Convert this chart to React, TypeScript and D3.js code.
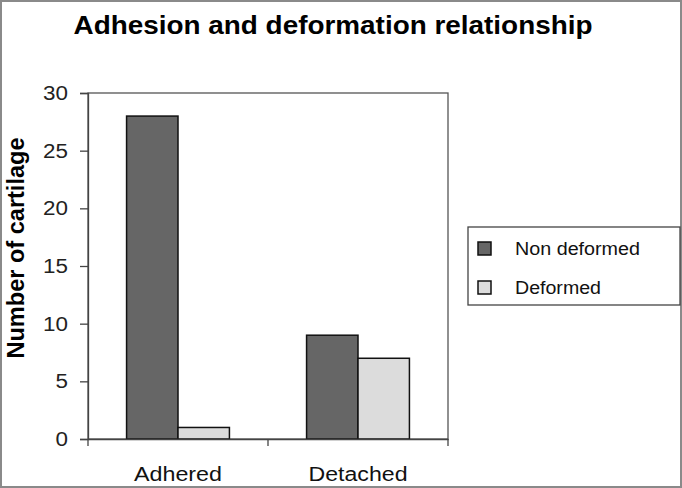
import * as React from 'react';
import * as d3 from 'd3';

const categories = ['Adhered', 'Detached'];
const seriesNames = ['Non deformed', 'Deformed'];
const nonDeformed = [28, 9];
const deformed = [1, 7];
const yTicks = [0, 5, 10, 15, 20, 25, 30];

const colors = ['#666666', '#dcdcdc'];
const font = 'Liberation Sans, Arial, sans-serif';

// the source picture is a bit wider than tall, so the text is stretched sideways
function stretch(sel: any, k: number) {
  sel.each(function (this: SVGTextElement) {
    const len = this.getComputedTextLength();
    d3.select(this).attr('textLength', len * k).attr('lengthAdjust', 'spacingAndGlyphs');
  });
}

export default function App() {
  const ref = React.useRef<SVGSVGElement>(null);

  React.useEffect(() => {
    const svg = d3.select(ref.current);
    svg.selectAll('*').remove();
    const W = 682, H = 488;
    const margin = { left: 88, right: 234, top: 93, bottom: 49 };
    const width = W - margin.left - margin.right;
    const height = H - margin.top - margin.bottom;

    // outer frame
    svg.append('rect')
      .attr('x', 1).attr('y', 1).attr('width', W - 2).attr('height', H - 2)
      .attr('fill', '#fff').attr('stroke', '#8a8a8a').attr('stroke-width', 2);

    svg.append('text')
      .attr('x', 333).attr('y', 34)
      .attr('text-anchor', 'middle')
      .attr('font-family', font).attr('font-weight', 'bold').attr('font-size', 25)
      .attr('textLength', 519).attr('lengthAdjust', 'spacingAndGlyphs')
      .text('Adhesion and deformation relationship');

    const g = svg.append('g').attr('transform', `translate(${margin.left},${margin.top})`);

    const x = d3.scaleBand().domain(categories).range([0, width]);
    const y = d3.scaleLinear().domain([0, 30]).range([height, 0]);
    const barW = x.bandwidth() / 3.5;

    // plot frame
    g.append('rect')
      .attr('width', width).attr('height', height)
      .attr('fill', 'none').attr('stroke', '#555').attr('stroke-width', 1.3);

    const series = [nonDeformed, deformed];
    series.forEach((vals, si) => {
      g.selectAll(`.bar${si}`)
        .data(vals)
        .enter()
        .append('rect')
        .attr('x', (d, i) => x(categories[i])! + barW * 0.75 + si * barW)
        .attr('y', d => y(d))
        .attr('width', barW)
        .attr('height', d => height - y(d))
        .attr('fill', colors[si])
        .attr('stroke', '#111')
        .attr('stroke-width', 1.5);
    });

    const yAxis = d3.axisLeft(y).tickValues(yTicks).tickSize(8).tickPadding(12);
    const yg = g.append('g').call(yAxis);
    yg.select('.domain').attr('stroke', '#444').attr('stroke-width', 1.3);
    yg.selectAll('.tick line').attr('stroke', '#444').attr('stroke-width', 1.3);
    yg.selectAll('.tick text')
      .attr('font-family', font).attr('font-size', 20).attr('fill', '#222');
    stretch(yg.selectAll('.tick text'), 1.12);

    const xAxis = d3.axisBottom(x).tickValues([]).tickSizeOuter(0);
    const xg = g.append('g').attr('transform', `translate(0,${height})`).call(xAxis);
    xg.select('.domain').attr('stroke', '#444').attr('stroke-width', 1.3);
    // category dividers
    [0, width / 2, width].forEach(px => {
      xg.append('line')
        .attr('x1', px).attr('x2', px).attr('y1', 0).attr('y2', 7)
        .attr('stroke', '#444').attr('stroke-width', 1.3);
    });
    const catWidths = [88, 99];
    categories.forEach((c, i) => {
      xg.append('text')
        .attr('x', x(c)! + x.bandwidth() / 2)
        .attr('y', 42)
        .attr('text-anchor', 'middle')
        .attr('font-family', font).attr('font-size', 20).attr('fill', '#111')
        .attr('textLength', catWidths[i]).attr('lengthAdjust', 'spacingAndGlyphs')
        .text(c);
    });

    svg.append('text')
      .attr('transform', 'translate(24,248) rotate(-90)')
      .attr('text-anchor', 'middle')
      .attr('font-family', font).attr('font-weight', 'bold').attr('font-size', 24)
      .attr('textLength', 221).attr('lengthAdjust', 'spacingAndGlyphs')
      .text('Number of cartilage');

    // legend
    const lg = svg.append('g').attr('transform', 'translate(468,227)');
    lg.append('rect')
      .attr('width', 212).attr('height', 78)
      .attr('fill', '#fff').attr('stroke', '#444').attr('stroke-width', 1.3);
    const legWidths = [125, 86];
    seriesNames.forEach((name, i) => {
      lg.append('rect')
        .attr('x', 10).attr('y', 15 + i * 39)
        .attr('width', 13).attr('height', 13)
        .attr('fill', colors[i]).attr('stroke', '#111').attr('stroke-width', 1.5);
      lg.append('text')
        .attr('x', 47).attr('y', 28 + i * 39)
        .attr('font-family', font).attr('font-size', 18).attr('fill', '#111')
        .attr('textLength', legWidths[i]).attr('lengthAdjust', 'spacingAndGlyphs')
        .text(name);
    });
  }, []);

  return (
    <svg
      ref={ref}
      width={682}
      height={488}
      style={{ position: 'absolute', left: 0, top: 0 }}
    />
  );
}
